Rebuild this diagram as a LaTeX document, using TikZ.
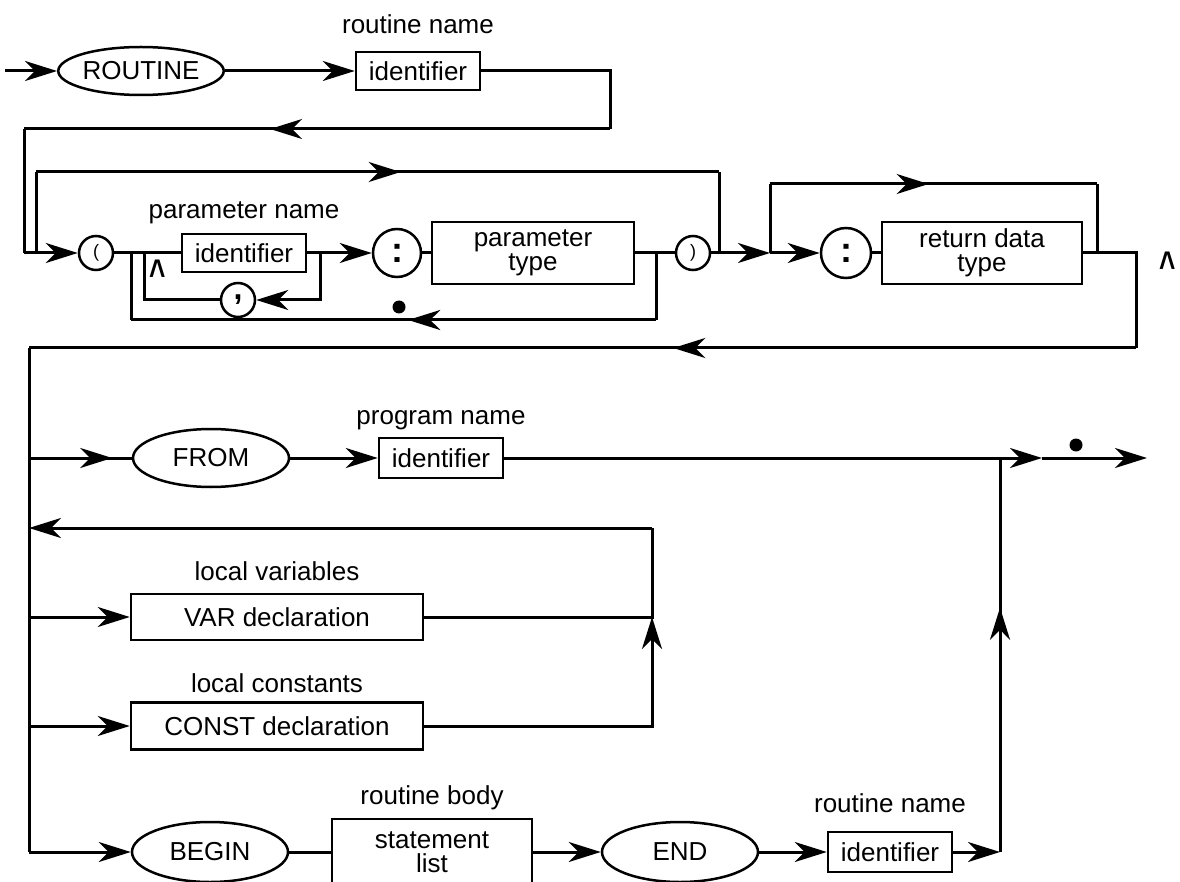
\documentclass[tikz,border=0pt]{standalone}
\usepackage{fontspec}
\setmainfont{Liberation Sans}
\usetikzlibrary{shapes.geometric,arrows.meta,decorations.markings}

\tikzset{
  line/.style={line width=3pt},
  term/.style={draw,line width=2.5pt,ellipse,minimum width=156pt,minimum height=56pt,inner sep=0pt},
  nterm/.style={draw,line width=2.5pt,rectangle,minimum width=124pt,minimum height=38pt,inner sep=0pt,align=center},
  sym/.style={draw,line width=2.5pt,circle,inner sep=0pt},
  lbl/.style={inner sep=0pt},
  caret/.style={inner sep=0pt,anchor=base,font=\fontsize{40}{40}\selectfont\bfseries},
  dotmark/.style={circle,fill,inner sep=0pt,minimum size=13pt},
  mid/.style={postaction={decorate},decoration={markings,mark=at position #1 with {\arrow{>}}}},
}

\begin{document}
\begin{tikzpicture}[x=1pt,y=-1pt,>={Stealth[length=32pt,width=20pt,inset=10pt]},
  every node/.append style={font=\fontsize{26}{24}\selectfont}]
  \useasboundingbox (0,0) rectangle (1180,882);
  % ROUTINE identifier
  \coordinate (start) at (5,71);
  \node[term,minimum width=146pt,minimum height=48pt] (kwRoutine) at (141,71) {ROUTINE};
  \node[nterm] (idName) at (418,71) {identifier};
  \node[lbl] (lblName) at (418,24) {routine name};
  \coordinate (cA1) at (610,71);
  \coordinate (cA2) at (610,129);
  \coordinate (cA3) at (24,129);
  \coordinate (cA4) at (24,253);
  \draw[line,->] (start) -- (kwRoutine);
  \draw[line,->] (kwRoutine) -- (idName);
  \draw[line] (idName.east) -- (cA1) -- (cA2);
  \draw[line,mid=0.58] (cA2) -- (cA3);
  \draw[line] (cA3) -- (cA4);

  % parameter list
  \node[sym,minimum size=34pt] (lpar) at (96,253) {\fontsize{18}{18}\selectfont(};
  \draw[line,->] (cA4) -- (lpar);
  \coordinate (bpL) at (36,253);
  \coordinate (bpLt) at (36,172);
  \coordinate (bpRt) at (719,172);
  \coordinate (bpR) at (719,253);
  \draw[line] (bpL) -- (bpLt);
  \draw[line,mid=0.534] (bpLt) -- (bpRt);
  \draw[line] (bpRt) -- (bpR);

  \node[nterm] (idParam) at (244,253) {identifier};
  \node[lbl] (lblParam) at (244,213) {parameter name};
  \node[sym,minimum size=48pt] (colA) at (397,253) {\fontsize{36}{36}\selectfont\bfseries :};
  \node[nterm,minimum width=202pt,minimum height=62pt] (ptype) at (533,253) {parameter\\type};
  \node[sym,minimum size=34pt] (rpar) at (693,253) {\fontsize{18}{18}\selectfont)};
  \node[sym,minimum size=34pt] (comma) at (238,300) {\fontsize{32}{32}\selectfont\bfseries ,};
  \node[caret] (hatP) at (158,288) {\scalebox{0.7}[1]{\textasciicircum}};
  \node[dotmark] (dotP) at (399,307) {};

  \coordinate (jO1) at (131,253);
  \coordinate (jO2) at (131,320);
  \coordinate (jO3) at (656,320);
  \coordinate (jO4) at (656,253);
  \coordinate (jI1) at (144,253);
  \coordinate (jI4) at (320,253);
  \draw[line] (lpar) -- (idParam);
  \draw[line,->] (idParam) -- (colA);
  \draw[line] (colA) -- (ptype);
  \draw[line] (ptype) -- (rpar);
  \draw[line,->] (jI4) |- (comma);
  \draw[line] (comma) -| (jI1);
  \draw[line] (jO4) -- (jO3);
  \draw[line,mid=0.472] (jO3) -- (jO2);
  \draw[line] (jO2) -- (jO1);

  % return data type
  \coordinate (jR) at (770,253);
  \node[sym,minimum size=50pt] (colB) at (846,253) {\fontsize{36}{36}\selectfont\bfseries :};
  \node[nterm,minimum width=200pt,minimum height=62pt] (rtype) at (982,253) {return data\\type};
  \coordinate (rbL) at (770,184);
  \coordinate (rbR) at (1097,184);
  \coordinate (rbD) at (1097,253);
  \coordinate (rt1) at (1136,253);
  \coordinate (rt2) at (1136,348);
  \coordinate (rt3) at (29,348);
  \draw[line,->] (rpar) -- (jR);
  \draw[line,->] (jR) -- (colB);
  \draw[line] (colB) -- (rtype);
  \draw[line] (jR) -- (rbL);
  \draw[line,mid=0.485] (rbL) -- (rbR);
  \draw[line] (rbR) -- (rbD);
  \draw[line] (rtype) -- (rt1) -- (rt2);
  \draw[line,mid=0.418] (rt2) -- (rt3);
  \node[caret] (hatR) at (1168,280) {\scalebox{0.7}[1]{\textasciicircum}};

  % FROM
  \coordinate (lBot) at (29,852);
  \draw[line] (rt3) -- (lBot);
  \coordinate (fL) at (29,458);
  \node[term,minimum height=58pt] (kwFrom) at (211,458) {FROM};
  \node[nterm,minimum height=40pt] (idProg) at (441,458) {identifier};
  \node[lbl] (lblProg) at (441,420) {program name};
  \coordinate (jE) at (1000,458);
  \coordinate (tE1) at (1042,458);
  \coordinate (tE2) at (1147,458);
  \draw[line,mid=0.81] (fL) -- (kwFrom);
  \draw[line,->] (kwFrom) -- (idProg);
  \draw[line] (idProg) -- (jE);
  \draw[line,->] (jE) -- (tE1);
  \draw[line,->] (tE1) -- (tE2);
  \node[dotmark] (dotE) at (1076,445) {};

  % declarations
  \coordinate (bk1) at (652,528);
  \coordinate (bk2) at (29,528);
  \coordinate (jV) at (652,617);
  \coordinate (jC) at (652,726);
  \node[nterm,minimum width=292pt,minimum height=46pt] (varDecl) at (277,617) {VAR declaration};
  \node[lbl] (lblVar) at (277,571) {local variables};
  \node[nterm,minimum width=292pt,minimum height=47pt] (constDecl) at (277,726) {CONST declaration};
  \node[lbl] (lblConst) at (277,683) {local constants};
  \coordinate (vL) at (29,617);
  \coordinate (cL) at (29,726);
  \draw[line,->] (bk1) -- (bk2);
  \draw[line,->] (vL) -- (varDecl);
  \draw[line,->] (cL) -- (constDecl);
  \draw[line] (varDecl) -- (jV) -- (bk1);
  \draw[line,->] (constDecl) -- (jC) -- (jV);

  % BEGIN ... END
  \node[term,minimum height=60pt] (kwBegin) at (210,852) {BEGIN};
  \node[nterm,minimum width=200pt,minimum height=66pt] (stmt) at (432,852) {statement\\list};
  \node[lbl] (lblBody) at (432,798) {routine body};
  \node[term,minimum height=60pt] (kwEnd) at (680,852) {END};
  \node[nterm,minimum height=40pt] (idEnd) at (890,852) {identifier};
  \node[lbl] (lblEnd) at (890,803) {routine name};
  \coordinate (jU) at (1000,852);
  \draw[line,->] (lBot) -- (kwBegin);
  \draw[line] (kwBegin) -- (stmt);
  \draw[line,->] (stmt) -- (kwEnd);
  \draw[line,->] (kwEnd) -- (idEnd);
  \draw[line,->] (idEnd) -- (jU);
  \draw[line,mid=0.62] (jU) -- (jE);
\end{tikzpicture}
\end{document}
